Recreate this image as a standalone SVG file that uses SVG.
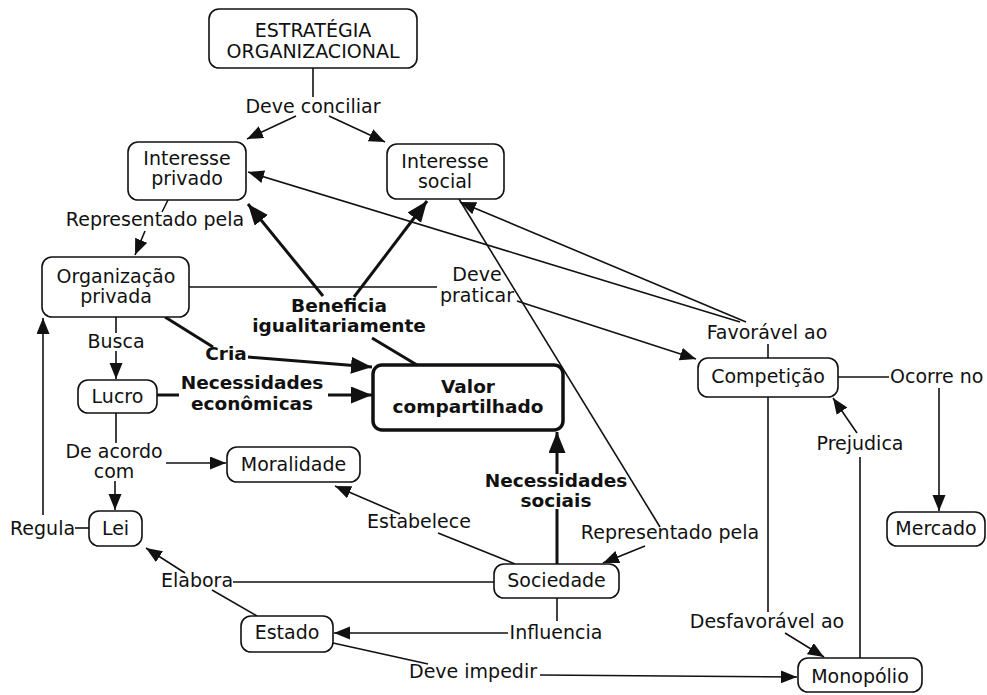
<svg xmlns="http://www.w3.org/2000/svg" width="987" height="695" viewBox="0 0 987 695">
  <style>
    text { font-family: "DejaVu Sans", Verdana, sans-serif; font-size: 19px; fill: #111; }
    .c { text-anchor: middle; }
    .b { font-weight: bold; font-size: 18.5px; }
    .node rect { fill: #fff; stroke: #111; stroke-width: 1.6; }
    .node.main rect { stroke-width: 3.5; }
    .thin { fill: none; stroke: #111; stroke-width: 1.6; }
    .thick { fill: none; stroke: #111; stroke-width: 3; }
  </style>
  <defs>
    <marker id="ah" markerUnits="userSpaceOnUse" markerWidth="17" markerHeight="14" refX="16" refY="6.5" orient="auto">
      <path d="M0,0 L16,6.5 L0,13 z" fill="#111"/>
    </marker>
    <marker id="ahb" markerUnits="userSpaceOnUse" markerWidth="22" markerHeight="18" refX="21" refY="8.5" orient="auto">
      <path d="M0,0 L21,8.5 L0,17 z" fill="#111"/>
    </marker>
  </defs>
  <rect width="987" height="695" fill="#fff"/>

  <!-- connectors -->
  <g id="connectors">
    <path class="thin" d="M313,68 V97"/>
    <path class="thin" d="M296,116 L247,139" marker-end="url(#ah)"/>
    <path class="thin" d="M329,116 L385,142" marker-end="url(#ah)"/>
    <path class="thin" d="M168,200 L162,212"/>
    <path class="thin" d="M145,231 L135,255" marker-end="url(#ah)"/>
    <path class="thin" d="M189,287 H437"/>
    <path class="thin" d="M517,301 L696,359" marker-end="url(#ah)"/>
    <path class="thin" d="M768,358 V344"/>
    <path class="thin" d="M740,322 L248,172" marker-end="url(#ah)"/>
    <path class="thin" d="M746,322 L460,202" marker-end="url(#ah)"/>
    <path class="thin" d="M838,377 H889"/>
    <path class="thin" d="M939,388 V511" marker-end="url(#ah)"/>
    <path class="thin" d="M768,397 V612"/>
    <path class="thin" d="M785,633 L824,657" marker-end="url(#ah)"/>
    <path class="thin" d="M860,658 V457"/>
    <path class="thin" d="M857,433 L833,398" marker-end="url(#ah)"/>
    <path class="thin" d="M459,199 L660,527"/>
    <path class="thin" d="M645,546 L603,563" marker-end="url(#ah)"/>
    <path class="thin" d="M515,564 L438,533"/>
    <path class="thin" d="M400,514 L335,486" marker-end="url(#ah)"/>
    <path class="thin" d="M494,582 H233"/>
    <path class="thin" d="M185,573 L146,548" marker-end="url(#ah)"/>
    <path class="thin" d="M257,616 L212,590"/>
    <path class="thin" d="M557,598 V621"/>
    <path class="thin" d="M508,633 H334" marker-end="url(#ah)"/>
    <path class="thin" d="M333,643 L428,664"/>
    <path class="thin" d="M540,675 L797,677" marker-end="url(#ah)"/>
    <path class="thin" d="M116,317 V333"/>
    <path class="thin" d="M116,351 V379" marker-end="url(#ah)"/>
    <path class="thin" d="M116,413 V443"/>
    <path class="thin" d="M166,463 H226" marker-end="url(#ah)"/>
    <path class="thin" d="M115,481 V510" marker-end="url(#ah)"/>
    <path class="thin" d="M89,528 H75"/>
    <path class="thin" d="M43,515 V318" marker-end="url(#ah)"/>

    <path class="thick" d="M165,317 L213,347"/>
    <path class="thick" d="M248,357 L372,367" marker-end="url(#ahb)"/>
    <path class="thick" d="M157,395 H179"/>
    <path class="thick" d="M328,395 H372" marker-end="url(#ahb)"/>
    <path class="thick" d="M417,365 L372,338"/>
    <path class="thick" d="M323,296 L248,204" marker-end="url(#ahb)"/>
    <path class="thick" d="M354,297 L427,201" marker-end="url(#ahb)"/>
    <path class="thick" d="M557,564 V509"/>
    <path class="thick" d="M557,474 V432" marker-end="url(#ahb)"/>
  </g>

  <!-- link labels -->
  <g id="labels">
    <text class="c" x="313" y="113">Deve conciliar</text>
    <text class="c" x="155" y="226">Representado pela</text>
    <text class="c" x="477" y="281">Deve</text>
    <text class="c" x="477" y="302">praticar</text>
    <text class="c" x="767" y="339">Favorável ao</text>
    <text x="890" y="383">Ocorre no</text>
    <text class="c" x="860" y="450">Prejudica</text>
    <text class="c" x="767" y="628">Desfavorável ao</text>
    <text x="409" y="678">Deve impedir</text>
    <text class="c" x="556" y="639">Influencia</text>
    <text class="c" x="197" y="587">Elabora</text>
    <text class="c" x="419" y="528">Estabelece</text>
    <text class="c" x="670" y="539">Representado pela</text>
    <text class="c" x="114" y="458">De acordo</text>
    <text class="c" x="114" y="478">com</text>
    <text x="10" y="535">Regula</text>
    <text class="c" x="116" y="348">Busca</text>
    <text class="c b" x="226" y="360">Cria</text>
    <text class="c b" x="252" y="389">Necessidades</text>
    <text class="c b" x="252" y="410">econômicas</text>
    <text class="c b" x="339" y="312">Beneficia</text>
    <text class="c b" x="339" y="332">igualitariamente</text>
    <text class="c b" x="556" y="487">Necessidades</text>
    <text class="c b" x="556" y="507">sociais</text>
  </g>

  <!-- concepts -->
  <g id="estrategia" class="node">
    <rect x="209" y="9" width="208" height="59" rx="10"/>
    <text class="c" x="313" y="37">ESTRATÉGIA</text>
    <text class="c" x="313" y="58">ORGANIZACIONAL</text>
  </g>
  <g id="interesse-privado" class="node">
    <rect x="128" y="142" width="118" height="58" rx="10"/>
    <text class="c" x="187" y="165">Interesse</text>
    <text class="c" x="187" y="185">privado</text>
  </g>
  <g id="interesse-social" class="node">
    <rect x="387" y="144" width="117" height="55" rx="10"/>
    <text class="c" x="445" y="168">Interesse</text>
    <text class="c" x="445" y="188">social</text>
  </g>
  <g id="organizacao-privada" class="node">
    <rect x="42" y="257" width="147" height="60" rx="10"/>
    <text class="c" x="116" y="283">Organização</text>
    <text class="c" x="116" y="303">privada</text>
  </g>
  <g id="lucro" class="node">
    <rect x="78" y="380" width="79" height="33" rx="10"/>
    <text class="c" x="117.5" y="403">Lucro</text>
  </g>
  <g id="valor-compartilhado" class="node main">
    <rect x="373" y="365" width="190" height="65" rx="9"/>
    <text class="c b" x="468" y="393">Valor</text>
    <text class="c b" x="468" y="413">compartilhado</text>
  </g>
  <g id="moralidade" class="node">
    <rect x="227" y="447" width="133" height="35" rx="10"/>
    <text class="c" x="293.5" y="471">Moralidade</text>
  </g>
  <g id="lei" class="node">
    <rect x="89" y="511" width="53" height="35" rx="10"/>
    <text class="c" x="115.5" y="535">Lei</text>
  </g>
  <g id="sociedade" class="node">
    <rect x="494" y="564" width="125" height="34" rx="10"/>
    <text class="c" x="556.5" y="587">Sociedade</text>
  </g>
  <g id="estado" class="node">
    <rect x="241" y="616" width="92" height="36" rx="10"/>
    <text class="c" x="287" y="639">Estado</text>
  </g>
  <g id="competicao" class="node">
    <rect x="698" y="358" width="140" height="39" rx="10"/>
    <text class="c" x="768" y="383">Competição</text>
  </g>
  <g id="mercado" class="node">
    <rect x="887" y="512" width="98" height="34" rx="10"/>
    <text class="c" x="936" y="535">Mercado</text>
  </g>
  <g id="monopolio" class="node">
    <rect x="798" y="658" width="124" height="34" rx="10"/>
    <text class="c" x="860" y="683">Monopólio</text>
  </g>
</svg>
